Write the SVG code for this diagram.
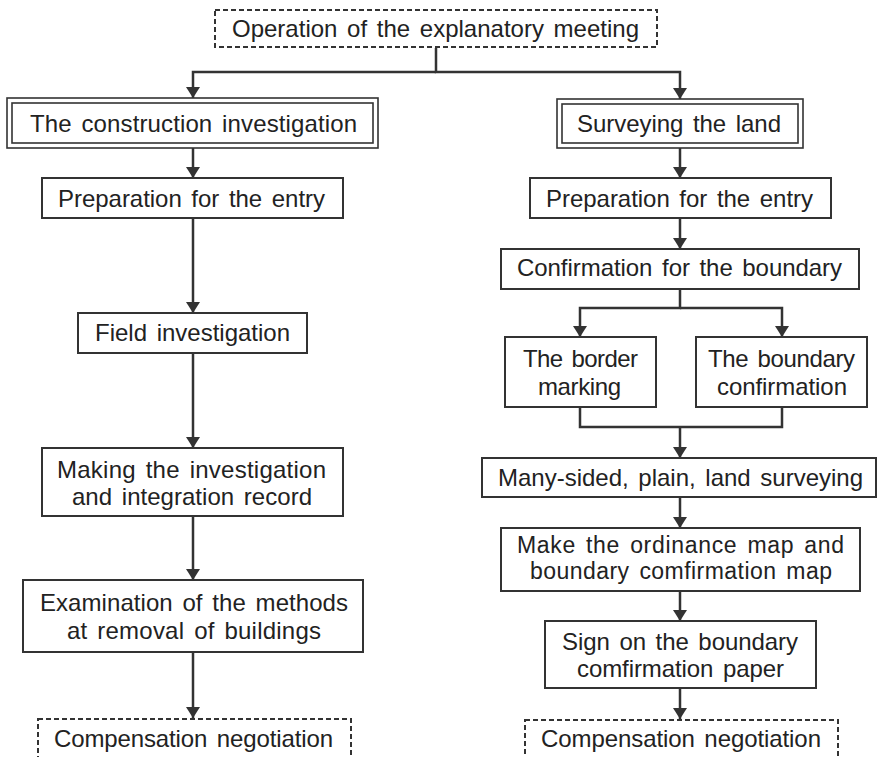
<svg xmlns="http://www.w3.org/2000/svg" width="878" height="757" viewBox="0 0 878 757">
<style>
.box{fill:#fff;stroke:#333;stroke-width:2}
.thin{fill:none;stroke:#333;stroke-width:1.6}
.dash{fill:#fff;stroke:#333;stroke-width:2;stroke-dasharray:5 3}
.t{font-family:"Liberation Sans",Arial,sans-serif;font-size:24px;fill:#222;text-anchor:middle;word-spacing:3px}
.s{font-size:23px}
.c{fill:none;stroke:#333;stroke-width:2.5}
.a{marker-end:url(#arr)}
</style>
<defs>
<marker id="arr" markerUnits="userSpaceOnUse" markerWidth="12" markerHeight="14" refX="11" refY="7" orient="auto">
<path d="M0,0 L11,7 L0,14 z" fill="#333"/>
</marker>
</defs>
<rect width="878" height="757" fill="#fff"/>
<g id="connectors">
<path class="c a" d="M436,72 H193 V98"/>
<path class="c a" d="M436,48 V72 H680 V99"/>
<path class="c a" d="M193,148 V178"/>
<path class="c a" d="M193,218 V313"/>
<path class="c a" d="M193,353 V448"/>
<path class="c a" d="M193,516 V580"/>
<path class="c a" d="M193,652 V718"/>
<path class="c a" d="M680,148 V178"/>
<path class="c a" d="M680,218 V249"/>
<path class="c a" d="M680,289 V308 H580 V337"/>
<path class="c a" d="M680,308 H782 V337"/>
<path class="c" d="M580,407 V427 H782 V407"/>
<path class="c a" d="M680,427 V458"/>
<path class="c a" d="M680,497 V528"/>
<path class="c a" d="M680,591 V621"/>
<path class="c a" d="M680,688 V719"/>
</g>
<g id="n-meeting">
<rect class="dash" x="215" y="10" width="442" height="37"/>
<text class="t" x="435.5" y="37" textLength="407">Operation of the explanatory meeting</text>
</g>
<g id="n-construction">
<rect class="thin" x="7" y="98" width="371" height="50" style="fill:#fff"/>
<rect class="thin" x="12" y="103" width="361" height="40"/>
<text class="t" x="193.5" y="132" textLength="327">The construction investigation</text>
</g>
<g id="n-surveying">
<rect class="thin" x="557" y="99" width="246" height="49" style="fill:#fff"/>
<rect class="thin" x="562" y="104" width="236" height="39"/>
<text class="t" x="679" y="132" textLength="204">Surveying the land</text>
</g>
<g id="n-prep-left">
<rect class="box" x="42" y="178" width="301" height="40"/>
<text class="t" x="191.5" y="207" textLength="267">Preparation for the entry</text>
</g>
<g id="n-prep-right">
<rect class="box" x="530" y="178" width="301" height="40"/>
<text class="t" x="679.5" y="207" textLength="267">Preparation for the entry</text>
</g>
<g id="n-confirmation">
<rect class="box" x="501" y="249" width="358" height="40"/>
<text class="t" x="679.5" y="276" textLength="325">Confirmation for the boundary</text>
</g>
<g id="n-field">
<rect class="box" x="78" y="313" width="229" height="40"/>
<text class="t" x="192.5" y="341" textLength="195">Field investigation</text>
</g>
<g id="n-border">
<rect class="box" x="505" y="337" width="151" height="70"/>
<text class="t" x="580.5" y="367" textLength="115">The border</text>
<text class="t" x="579.5" y="395" textLength="83">marking</text>
</g>
<g id="n-boundary">
<rect class="box" x="696" y="337" width="171" height="70"/>
<text class="t" x="781.5" y="367" textLength="147">The boundary</text>
<text class="t" x="782" y="395" textLength="130">confirmation</text>
</g>
<g id="n-many">
<rect class="box" x="482" y="458" width="394" height="39"/>
<text class="t" x="680.5" y="486" textLength="365">Many-sided, plain, land surveying</text>
</g>
<g id="n-make">
<rect class="box" x="501" y="528" width="359" height="63"/>
<text class="t s" x="680.5" y="553" textLength="327">Make the ordinance map and</text>
<text class="t s" x="681" y="579" textLength="302">boundary comfirmation map</text>
</g>
<g id="n-sign">
<rect class="box" x="545" y="621" width="271" height="67"/>
<text class="t" x="680" y="650" textLength="236">Sign on the boundary</text>
<text class="t" x="680.5" y="677" textLength="207">comfirmation paper</text>
</g>
<g id="n-making">
<rect class="box" x="42" y="448" width="301" height="68"/>
<text class="t" x="191.5" y="478" textLength="269">Making the investigation</text>
<text class="t" x="192" y="505" textLength="240">and integration record</text>
</g>
<g id="n-exam">
<rect class="box" x="23" y="580" width="340" height="72"/>
<text class="t" x="194" y="611" textLength="308">Examination of the methods</text>
<text class="t" x="194" y="639" textLength="254">at removal of buildings</text>
</g>
<g id="n-comp-left">
<rect class="dash" x="38" y="719" width="313" height="60"/>
<text class="t" x="193.5" y="747" textLength="279">Compensation negotiation</text>
</g>
<g id="n-comp-right">
<rect class="dash" x="525" y="720" width="313" height="60"/>
<text class="t" x="681" y="747" textLength="280">Compensation negotiation</text>
</g>
</svg>
